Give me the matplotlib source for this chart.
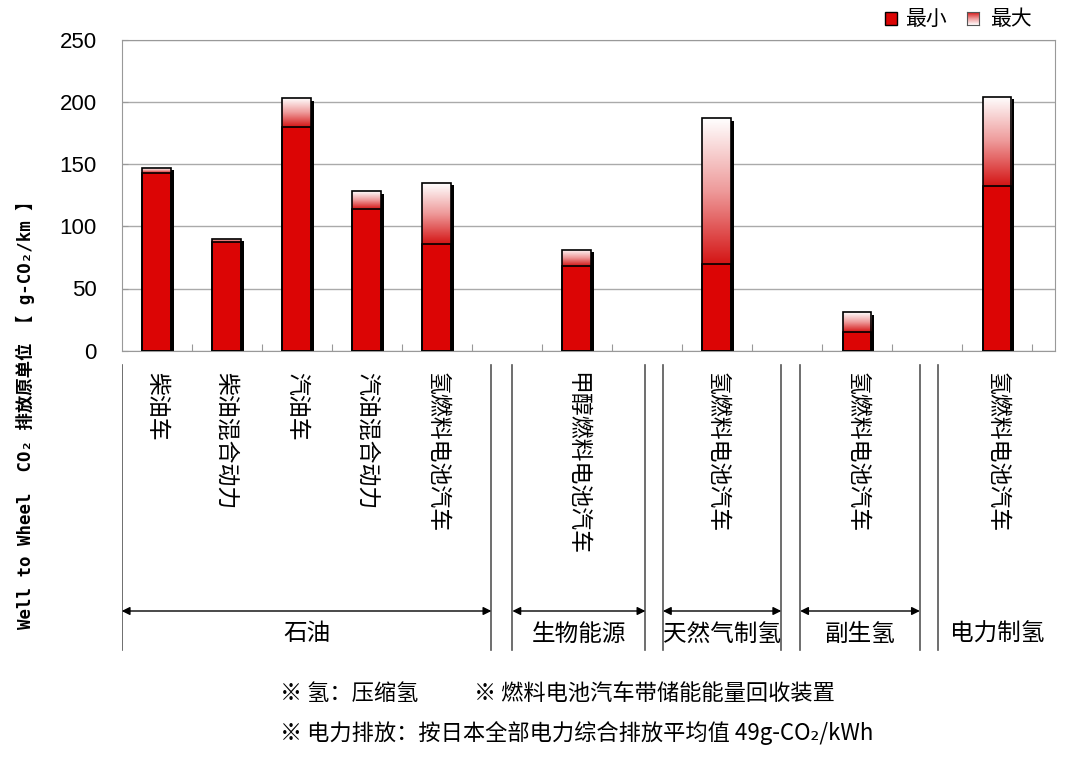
import numpy as np
import matplotlib
matplotlib.use("Agg")
import matplotlib.pyplot as plt
from matplotlib.colors import LinearSegmentedColormap
from matplotlib.patches import Rectangle

plt.rcParams['font.family'] = ['Noto Sans CJK SC', 'DejaVu Sans']

# data
cars = ["柴油车", "柴油混合动力", "汽油车", "汽油混合动力", "氢燃料电池汽车",
        "甲醇燃料电池汽车", "氢燃料电池汽车", "氢燃料电池汽车", "氢燃料电池汽车"]
slots = [0, 1, 2, 3, 4, 6, 8, 10, 12]
co2_min = [143, 87, 180, 114, 86, 68, 70, 15, 132]
co2_max = [147, 90, 203, 128, 135, 81, 187, 31, 204]
groups = ["石油", "生物能源", "天然气制氢", "副生氢", "电力制氢"]
group_edges = [(-0.5, 4.78), (5.08, 6.98), (7.23, 8.92), (9.19, 10.9), (11.16, 12.85)]

RED = "#dc0505"
grad_cmap = LinearSegmentedColormap.from_list("g", ["#d41515", "#ee9a9a", "#ffffff"])
W, H = 1080, 759

fig = plt.figure(figsize=(10.8, 7.59), dpi=100)
ax_l, ax_r = 121.7 / W, 1055 / W
ax = fig.add_axes([ax_l, 1 - 350.7 / H, ax_r - ax_l, (350.7 - 39.7) / H])

bw = 0.41
grad = np.linspace(0, 1, 256).reshape(-1, 1)
for x, lo, hi in zip(slots, co2_min, co2_max):
    # shadow
    ax.add_patch(Rectangle((x - bw / 2 + 0.045, 0), bw, hi - 2.0,
                           facecolor="black", edgecolor="none", zorder=2))
    ax.imshow(grad, extent=(x - bw / 2, x + bw / 2, lo, hi), origin="lower",
              cmap=grad_cmap, aspect="auto", zorder=3, interpolation="bilinear")
    ax.bar(x, lo, bw, color=RED, edgecolor="black", linewidth=1.2, zorder=4)
    ax.add_patch(Rectangle((x - bw / 2, 0), bw, hi, fill=False,
                           edgecolor="black", linewidth=1.2, zorder=5))

ax.set_xlim(-0.5, 12.83)
ax.set_ylim(0, 250)
ax.set_yticks([0, 50, 100, 150, 200, 250])
ax.set_xticks(np.arange(0.5, 12.6, 1))
ax.set_xticklabels([])
ax.tick_params(axis="x", direction="in", length=5, color="#999999")
ax.tick_params(axis="y", direction="in", length=4, color="#999999", pad=18,
               labelsize=16, labelfontfamily="Liberation Sans")
ax.yaxis.grid(True, color="#aaaaaa", linewidth=1)
ax.set_axisbelow(True)
for s in ax.spines.values():
    s.set_color("#999999")

# lower annotation area in pixel y
ax2 = fig.add_axes([ax_l, 0, ax_r - ax_l, 1])
ax2.set_xlim(-0.5, 12.83)
ax2.set_ylim(H, 0)
ax2.axis("off")

for x, name in zip(slots, cars):
    ax2.text(x, 372, name, rotation=-90, ha="center", va="top", fontsize=16.5)

for (x0, x1), g in zip(group_edges, groups):
    for xe in (x0, x1):
        ax2.plot([xe, xe], [365, 650], color="#555555", lw=1.2)
    ax2.annotate("", xy=(x1, 611), xytext=(x0, 611),
                 arrowprops=dict(arrowstyle="<|-|>", color="black", lw=1,
                                 mutation_scale=12, shrinkA=0, shrinkB=0))
    ax2.text((x0 + x1) / 2, 634, g, ha="center", va="center", fontsize=17)

# legend
fig.patches.append(Rectangle((885 / W, 1 - 25 / H), 12 / W, 13 / H, transform=fig.transFigure,
                             facecolor=RED, edgecolor="black", lw=1))
fig.text(905 / W, 1 - 19 / H, "最小", va="center", fontsize=15)
lg = fig.add_axes([967 / W, 1 - 25 / H, 12 / W, 13 / H])
lg.imshow(grad, origin="upper", cmap=grad_cmap, aspect="auto")
lg.set_xticks([])
lg.set_yticks([])
for s in lg.spines.values():
    s.set_color("#555555")
fig.text(990 / W, 1 - 19 / H, "最大", va="center", fontsize=15)

# y label
fig.text(25 / W, 1 - 411 / H, "Well to Wheel  CO₂ 排放原单位 【 g-CO₂/km 】", rotation=90,
         ha="center", va="center", fontsize=12.5, fontweight="bold",
         family=["DejaVu Sans Mono", "Noto Sans CJK SC"])

# footnotes
fig.text(280 / W, 1 - 693 / H, "※ 氢：压缩氢", va="center", fontsize=16)
fig.text(474 / W, 1 - 693 / H, "※ 燃料电池汽车带储能能量回收装置", va="center", fontsize=16)
fig.text(280 / W, 1 - 733 / H, "※ 电力排放：按日本全部电力综合排放平均值 49g-CO₂/kWh",
         va="center", fontsize=16)

fig.savefig("out.png", dpi=100)
plt.close(fig)
